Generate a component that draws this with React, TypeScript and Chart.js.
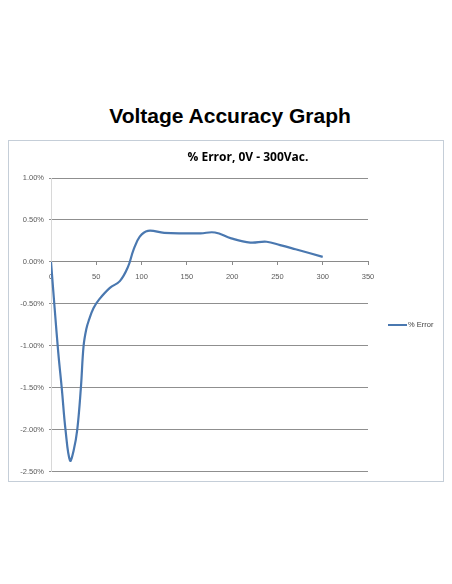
import React, { useEffect, useRef } from "react";
import { Chart, registerables } from "chart.js";

Chart.register(...registerables);

const mainTitle = "Voltage Accuracy Graph";
const chartTitle = "% Error, 0V - 300Vac.";
const seriesName = "% Error";

const voltage = [0, 4, 8, 12, 16, 21, 25, 29, 33, 36, 39, 42, 47, 53, 65, 76, 85, 91, 98, 107, 125, 150, 165, 181, 199, 220, 238, 253, 270, 300];
const errorPct = [0, -0.55, -1.08, -1.52, -2.0, -2.37, -2.25, -2.0, -1.5, -1.0, -0.8, -0.69, -0.55, -0.45, -0.31, -0.23, -0.06, 0.14, 0.3, 0.37, 0.345, 0.34, 0.34, 0.35, 0.28, 0.23, 0.24, 0.2, 0.15, 0.06];

const xMin = 0;
const xMax = 350;
const xStep = 50;
const yMin = -2.5;
const yMax = 1.0;
const yStep = 0.5;

const tickFont = { family: "'Liberation Sans', Arial, sans-serif", size: 7.5 };

export default function App() {
  const ref = useRef<HTMLCanvasElement | null>(null);

  useEffect(() => {
    if (!ref.current) return;
    const chart = new Chart(ref.current, {
      type: "line",
      data: {
        datasets: [
          {
            label: seriesName,
            data: voltage.map((v, i) => ({ x: v, y: errorPct[i] })),
            borderColor: "#4a78b0",
            borderWidth: 2.2,
            pointRadius: 0,
            tension: 0.4,
            fill: false,
          },
        ],
      },
      options: {
        animation: false,
        responsive: false,
        maintainAspectRatio: false,
        layout: { padding: { left: 0, right: 75, top: 37, bottom: 9 } },
        plugins: {
          legend: { display: false },
          title: { display: false },
          tooltip: { enabled: false },
        },
        scales: {
          x: {
            type: "linear",
            min: xMin,
            max: xMax,
            position: { y: 0 } as any,
            afterFit: (s: any) => {
              s.height = 0;
            },
            ticks: {
              stepSize: xStep,
              color: "#5a5a5a",
              font: tickFont,
              padding: 8,
              maxRotation: 0,
            },
            grid: {
              drawOnChartArea: false,
              drawTicks: true,
              tickLength: 3,
              color: "#8a8a8a",
            },
            border: { display: true, color: "#8a8a8a", width: 1 },
          },
          y: {
            type: "linear",
            min: yMin,
            max: yMax,
            afterFit: (s: any) => {
              s.width = 42;
            },
            ticks: {
              stepSize: yStep,
              color: "#5a5a5a",
              font: tickFont,
              padding: 5,
              callback: (v: any) => Number(v).toFixed(2) + "%",
            },
            grid: {
              color: "#8f8f8f",
              lineWidth: 1,
              drawTicks: true,
              tickLength: 2,
            },
            border: { display: true, color: "#d8d8d8", width: 1 },
          },
        },
      },
    });
    return () => chart.destroy();
  }, []);

  return (
    <div style={{ position: "relative", width: 436, height: 568 }}>
      <div
        style={{
          position: "absolute",
          left: 22,
          width: 400,
          top: 96,
          textAlign: "center",
          fontFamily: "'Liberation Sans', Arial, sans-serif",
          fontWeight: "bold",
          fontSize: 21,
          lineHeight: "24px",
          color: "#000",
        }}
      >
        {mainTitle}
      </div>
      <div
        style={{
          position: "absolute",
          left: 0,
          top: 132,
          width: 434,
          height: 340,
          border: "1px solid #c5ced8",
        }}
      >
        <canvas ref={ref} width={434} height={340} style={{ display: "block" }} />
        <div
          style={{
            position: "absolute",
            left: 139,
            width: 200,
            top: 8,
            textAlign: "center",
            fontFamily: "'Open Sans', sans-serif",
            fontWeight: "bold",
            fontSize: 12,
            lineHeight: "16px",
            color: "#000",
          }}
        >
          {chartTitle}
        </div>
        <div
          style={{
            position: "absolute",
            left: 379,
            top: 179,
            display: "flex",
            alignItems: "center",
            fontFamily: "'Liberation Sans', Arial, sans-serif",
            fontSize: 7.5,
            lineHeight: "10px",
            color: "#404040",
            whiteSpace: "nowrap",
          }}
        >
          <span style={{ display: "inline-block", width: 19, height: 2, background: "#4a78b0", marginRight: 1 }} />
          <span>{seriesName}</span>
        </div>
      </div>
    </div>
  );
}
